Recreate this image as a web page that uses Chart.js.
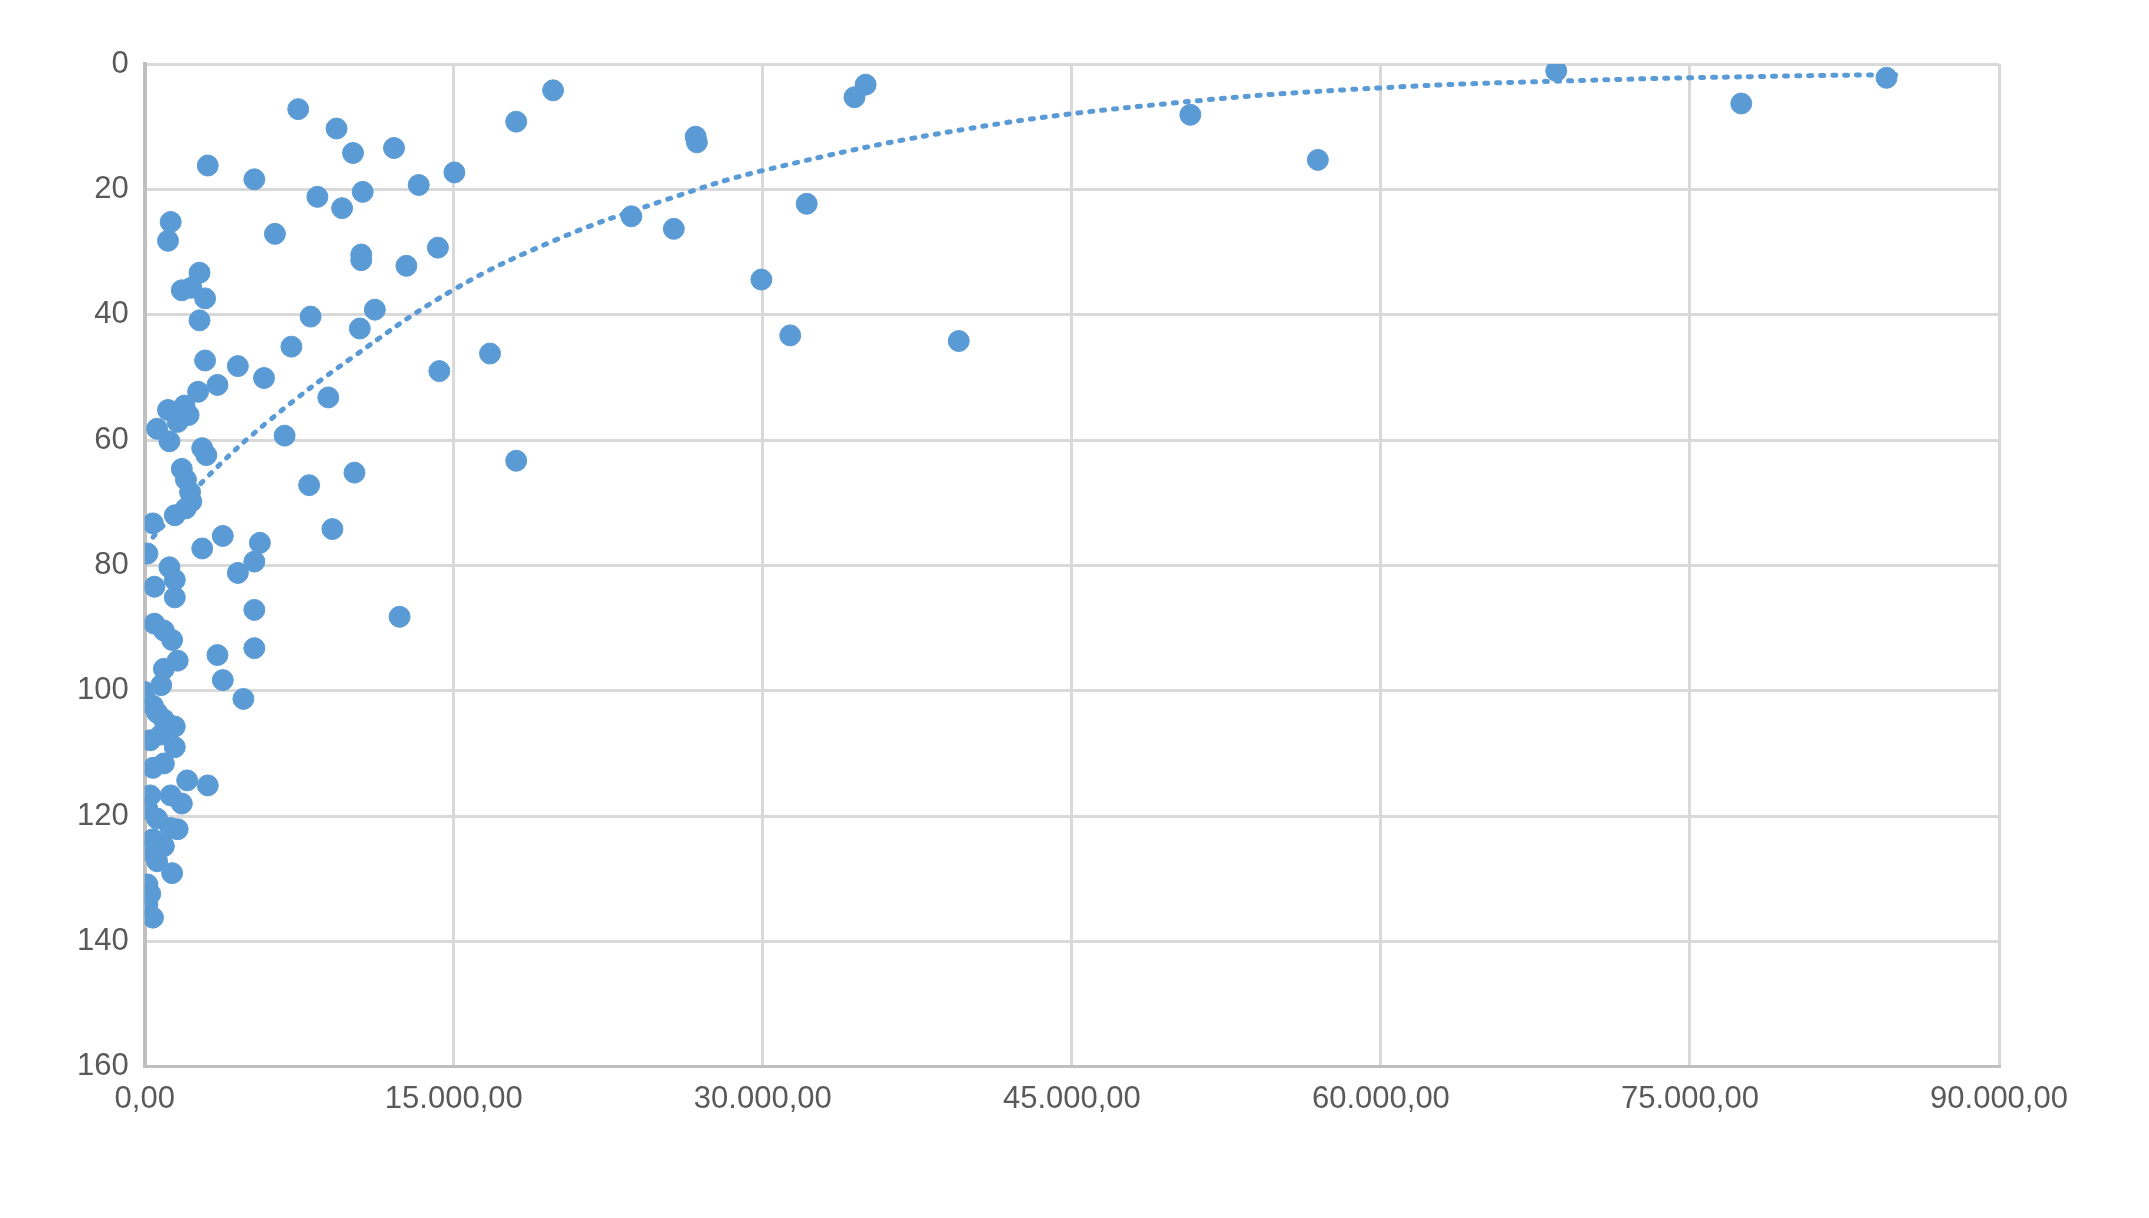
<!DOCTYPE html>
<html>
<head>
<meta charset="utf-8">
<script src="https://cdn.jsdelivr.net/npm/chart.js@4/dist/chart.umd.min.js"></script>
<style>
  html, body { margin: 0; padding: 0; background: #fff; }
  #wrap { width: 2149px; height: 1218px; position: relative; }
</style>
</head>
<body>
<div id="wrap"><canvas id="chart"></canvas></div>
<script>
// scatter values (x, depth)
const xs = [7450,9310,10110,12100,3060,5320,8380,9580,10580,13300,15030,18030,19820,1260,1130,6320,10510,10510,12700,14230,
  2660,1800,2260,2930,2660,8050,11170,10440,7120,2930,4520,5790,14300,16760,3530,2590,8910,1930,1130,2130,
  600,1600,1200,6790,2790,2990,18030,1800,2000,10180,7980,2200,2260,2000,1460,400,9110,3790,5590,2790,
  130,5320,1200,4520,1460,470,1460,5320,12370,470,930,1330,5320,3530,1600,930,3790,800,0,4790,
  400,600,930,1460,800,270,1460,400,930,2060,3060,270,1260,1800,130,600,1260,1600,400,930,
  130,1330,600,130,270,130,400,
  23620,25680,26740,26800,29930,31330,32130,34450,34990,39510,50750,56940,68510,77490,84540];
const ys = [7.2,10.3,14.2,13.4,16.2,18.4,21.2,23,20.4,19.3,17.3,9.2,4.2,25.2,28.2,27.1,30.4,31.3,32.2,29.3,
  33.3,36.1,35.7,37.4,40.9,40.3,39.2,42.2,45.1,47.3,48.2,50.1,49,46.2,51.2,52.3,53.2,54.5,55.2,56,
  58.2,57.1,60.2,59.3,61.3,62.4,63.3,64.6,66.3,65.2,67.2,68.3,69.8,70.9,72,73.3,74.2,75.3,76.4,77.3,
  78.1,79.4,80.3,81.2,82.3,83.4,85.1,87.1,88.2,89.3,90.4,91.9,93.2,94.3,95.2,96.5,98.3,99.1,100.2,101.3,
  102.4,103.5,104.6,105.7,107,107.9,109,112.3,111.6,114.3,115.1,116.7,116.7,118,118.9,120.4,121.9,122.1,123.7,124.8,
  125.4,129.1,127.2,130.9,132.4,134.2,136.2,
  24.3,26.3,11.6,12.5,34.4,43.3,22.3,5.3,3.3,44.2,8.1,15.3,1.1,6.3,2.2];
// dotted trend line
const trendX = [400,3000,6000,10000,15000,20000,25000,30000,40000,50000,60000,70000,80000,85000];
const trendY = [75.5,66,57,47,36,28,22,17,10.3,6.2,3.8,2.6,1.9,1.7];
const xTicks = [0,15000,30000,45000,60000,75000,90000];

const blue = '#5B9BD5';
const fmt = v => v.toLocaleString('de-DE', { minimumFractionDigits: 2, maximumFractionDigits: 2 });

new Chart(document.getElementById('chart'), {
  type: 'scatter',
  data: {
    datasets: [
      {
        data: xs.map((x, i) => ({ x, y: ys[i] })),
        backgroundColor: blue, borderColor: blue,
        pointRadius: 10.5, pointHoverRadius: 10.5
      },
      {
        type: 'line',
        data: trendX.map((x, i) => ({ x, y: trendY[i] })),
        borderColor: blue, borderWidth: 5, borderDash: [3, 9], borderCapStyle: 'round',
        pointRadius: 0, tension: 0.4, fill: false
      }
    ]
  },
  options: {
    responsive: true, maintainAspectRatio: false, animation: false,
    layout: { padding: { left: 61, right: 150, top: 64, bottom: 86 } },
    plugins: { legend: { display: false }, tooltip: { enabled: false } },
    scales: {
      x: {
        type: 'linear', min: 0, max: 90000,
        afterBuildTicks: s => { s.ticks = xTicks.map(v => ({ value: v })); },
        ticks: { callback: v => fmt(v), color: '#595959', font: { family: 'Liberation Sans', size: 31 }, padding: 14, maxRotation: 0 },
        grid: { color: '#d9d9d9', lineWidth: 3, drawTicks: false },
        border: { color: '#bfbfbf', width: 3 }
      },
      y: {
        reverse: true, min: 0, max: 160,
        ticks: { stepSize: 20, color: '#595959', font: { family: 'Liberation Sans', size: 31 }, padding: 16 },
        grid: { color: '#d9d9d9', lineWidth: 3, drawTicks: false },
        border: { color: '#bfbfbf', width: 4 }
      }
    }
  }
});
</script>
</body>
</html>
